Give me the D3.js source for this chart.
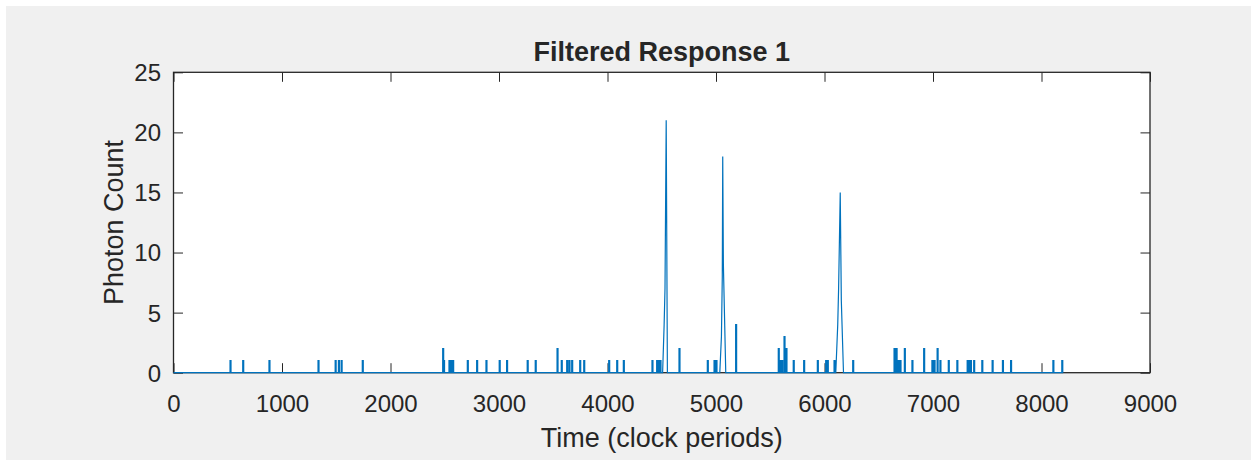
<!DOCTYPE html>
<html>
<head>
<meta charset="utf-8">
<script src="https://cdn.jsdelivr.net/npm/d3@7"></script>
<style>
  html, body { margin: 0; padding: 0; background: #ffffff; }
  svg { display: block; }
  text { font-family: "Liberation Sans", Arial, Helvetica, sans-serif; fill: #262626; }
</style>
</head>
<body>
<svg id="chart" width="1251" height="460"></svg>
<script>
// ---------------- data ----------------
const chartTitle = "Filtered Response 1";
const xLabel = "Time (clock periods)";
const yLabel = "Photon Count";
const xTicks = [0, 1000, 2000, 3000, 4000, 5000, 6000, 7000, 8000, 9000];
const yTicks = [0, 5, 10, 15, 20, 25];
const xDomain = [0, 9000];
const yDomain = [0, 25];
const recordEnd = 8200;            // last clock period of the record
const pulseLength = 9;             // clock periods a single count is held

// isolated photon pulses: time (clock periods) and count
const pulseTimes = [
  521, 638, 880, 1332, 1490, 1520, 1545, 1740,
  2481, 2489, 2539, 2558, 2573, 2708, 2794, 2880, 3002, 3070, 3260, 3334,
  3535, 3574, 3624, 3645, 3670, 3744, 3781, 4011, 4085, 4146,
  4410, 4453, 4470, 4484, 4659, 4920, 4982, 5000, 5181,
  5574, 5590, 5606, 5627, 5645, 5712, 5808, 5934, 6011, 6026, 6088, 6260,
  6641, 6660, 6680, 6696, 6736, 6806, 6914, 6990, 7010, 7038, 7064,
  7141, 7220, 7315, 7330, 7345, 7375, 7450, 7545, 7640, 7715, 8105, 8187
];
const pulseCounts = [
  1, 1, 1, 1, 1, 1, 1, 1,
  2, 1, 1, 1, 1, 1, 1, 1, 1, 1, 1, 1,
  2, 1, 1, 1, 1, 1, 1, 1, 1, 1,
  1, 1, 1, 1, 2, 1, 1, 1, 4,
  2, 1, 1, 3, 2, 1, 1, 1, 1, 1, 1, 1,
  2, 2, 1, 1, 2, 1, 2, 1, 1, 2, 1,
  1, 1, 1, 1, 1, 1, 1, 1, 1, 1, 1, 1
];

// the three bursts, sampled along their shape
const burst1Times  = [4508, 4522, 4530, 4541, 4552];
const burst1Counts = [0, 4, 7, 21, 0];
const burst2Times  = [5035, 5050, 5058, 5062, 5068, 5090];
const burst2Counts = [0, 3, 8, 18, 9, 0];
const burst3Times  = [6104, 6122, 6130, 6145, 6155, 6175];
const burst3Counts = [0, 4, 7, 15, 6, 0];

// ---------------- layout ----------------
const W = 1251, H = 460;
const plot = { left: 173.5, right: 1150, top: 72.3, bottom: 372.7 };
const axisColor = "#262626";
const lineColor = "#0072BD";
const tickLen = 9.5;

const svg = d3.select("#chart");

svg.append("rect").attr("x", 0).attr("y", 0).attr("width", W).attr("height", H).attr("fill", "#ffffff");
svg.append("rect").attr("x", 6).attr("y", 6).attr("width", W - 6).attr("height", H - 6).attr("fill", "#f0f0f0");

svg.append("rect")
  .attr("x", plot.left).attr("y", plot.top)
  .attr("width", plot.right - plot.left).attr("height", plot.bottom - plot.top)
  .attr("fill", "#ffffff");

const x = d3.scaleLinear().domain(xDomain).range([plot.left, plot.right]);
const y = d3.scaleLinear().domain(yDomain).range([plot.bottom, plot.top]);

function styleAxis(g) {
  g.select(".domain").remove();
  g.selectAll(".tick line").attr("stroke", axisColor).attr("stroke-width", 1);
}

const xAxisBottom = svg.append("g")
  .attr("transform", `translate(0,${plot.bottom})`)
  .call(d3.axisBottom(x).tickValues(xTicks).tickSizeInner(-tickLen).tickSizeOuter(0).tickPadding(0).tickFormat(d3.format("d")));
styleAxis(xAxisBottom);
xAxisBottom.selectAll(".tick text")
  .attr("y", 39.5).attr("dy", null)
  .style("font-size", "24px").attr("fill", axisColor);

const xAxisTop = svg.append("g")
  .attr("transform", `translate(0,${plot.top})`)
  .call(d3.axisTop(x).tickValues(xTicks).tickSizeInner(-tickLen).tickSizeOuter(0).tickFormat(""));
styleAxis(xAxisTop);

const yAxisLeft = svg.append("g")
  .attr("transform", `translate(${plot.left},0)`)
  .call(d3.axisLeft(y).tickValues(yTicks).tickSizeInner(-tickLen).tickSizeOuter(0).tickPadding(0).tickFormat(d3.format("d")));
styleAxis(yAxisLeft);
yAxisLeft.selectAll(".tick text")
  .attr("x", -12.5).attr("dy", "0.35em")
  .style("font-size", "24px").attr("fill", axisColor);

const yAxisRight = svg.append("g")
  .attr("transform", `translate(${plot.right},0)`)
  .call(d3.axisRight(y).tickValues(yTicks).tickSizeInner(-tickLen).tickSizeOuter(0).tickFormat(""));
styleAxis(yAxisRight);

svg.append("rect")
  .attr("x", plot.left).attr("y", plot.top)
  .attr("width", plot.right - plot.left).attr("height", plot.bottom - plot.top)
  .attr("fill", "none").attr("stroke", axisColor).attr("stroke-width", 1.3);

// ---------------- build the signal from the data ----------------
const segments = [];
pulseTimes.forEach((t, i) => {
  const c = pulseCounts[i];
  segments.push({ start: t, pts: [[t, 0], [t, c], [t + pulseLength, c], [t + pulseLength, 0]] });
});
[[burst1Times, burst1Counts], [burst2Times, burst2Counts], [burst3Times, burst3Counts]].forEach(([ts, cs]) => {
  segments.push({ start: ts[0], pts: ts.map((t, i) => [t, cs[i]]) });
});
segments.sort((a, b) => a.start - b.start);
const signal = [[0, 0]];
segments.forEach(s => s.pts.forEach(p => signal.push(p)));
signal.push([recordEnd, 0]);

const line = d3.line().x(d => x(d[0])).y(d => y(d[1]));
svg.append("path")
  .datum(signal)
  .attr("d", line)
  .attr("fill", "none")
  .attr("stroke", lineColor)
  .attr("stroke-width", 1.2)
  .attr("stroke-linejoin", "miter");

// ---------------- texts ----------------
svg.append("text")
  .attr("x", (plot.left + plot.right) / 2).attr("y", 61)
  .attr("text-anchor", "middle")
  .style("font-size", "27px").style("font-weight", "bold")
  .attr("fill", "#000000")
  .text(chartTitle);

svg.append("text")
  .attr("x", (plot.left + plot.right) / 2).attr("y", 447)
  .attr("text-anchor", "middle")
  .style("font-size", "27px")
  .attr("fill", axisColor)
  .text(xLabel);

svg.append("text")
  .attr("transform", `translate(123,${(plot.top + plot.bottom) / 2}) rotate(-90)`)
  .attr("text-anchor", "middle")
  .style("font-size", "27px")
  .attr("fill", axisColor)
  .text(yLabel);
</script>
</body>
</html>
